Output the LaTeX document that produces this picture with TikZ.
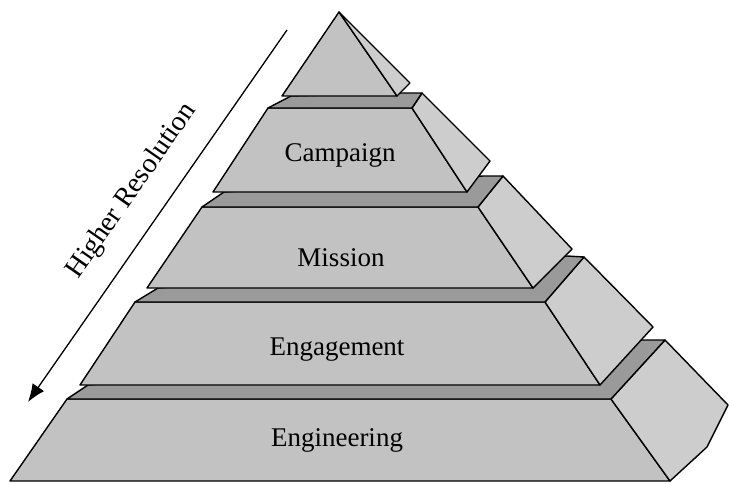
\documentclass[tikz,border=0pt]{standalone}
\usepackage{fontspec}
\setmainfont{Liberation Serif}
\usetikzlibrary{arrows.meta}
\definecolor{frontgray}{HTML}{C2C2C2}
\definecolor{sidegray}{HTML}{CDCDCD}
\definecolor{ledgegray}{HTML}{9A9A9A}
\tikzset{
  face/.style={draw=black, line width=1.4pt, line join=round, fill=frontgray},
  sideface/.style={draw=black, line width=1.4pt, line join=round, fill=sidegray},
  ledge/.style={draw=black, line width=1.4pt, line join=round, fill=ledgegray},
  tierlabel/.style={font=\fontsize{27}{30}\selectfont, inner sep=0pt},
  arrowlabel/.style={font=\fontsize{28}{31}\selectfont, inner sep=0pt, rotate=55.2}
}
\begin{document}
\begin{tikzpicture}[x=1pt,y=-1pt]
\useasboundingbox (0,0) rectangle (729,483);
% ---- coordinates ----
% top triangle
\coordinate (A) at (339,12);
\coordinate (T0bl) at (282,96);
\coordinate (T0br) at (397,96);
\coordinate (T0ob) at (410,83);
% campaign
\coordinate (T1tl) at (268,108); \coordinate (T1tr) at (412,108);
\coordinate (T1br) at (467,192); \coordinate (T1bl) at (213,192);
\coordinate (T1ot) at (422,93);  \coordinate (T1ob) at (490,161);
\coordinate (Q1) at (400,93);    \coordinate (LP1) at (291,96);
% mission
\coordinate (T2tl) at (202,207); \coordinate (T2tr) at (478,207);
\coordinate (T2br) at (533,288); \coordinate (T2bl) at (147,288);
\coordinate (T2ot) at (503,176); \coordinate (T2ob) at (572,249);
\coordinate (Q2) at (483,176);   \coordinate (LP2) at (224,192);
% engagement
\coordinate (T3tl) at (135,302); \coordinate (T3tr) at (545,302);
\coordinate (T3br) at (600,385); \coordinate (T3bl) at (80,385);
\coordinate (T3ot) at (584,257); \coordinate (T3ob) at (653,327);
\coordinate (Q3) at (567,256);   \coordinate (LP3) at (158,288);
% engineering
\coordinate (T4tl) at (67,399);  \coordinate (T4tr) at (611,399);
\coordinate (T4br) at (670,481); \coordinate (T4bl) at (10,481);
\coordinate (T4ot) at (665,340); \coordinate (T4oa) at (728,405);
\coordinate (T4ob) at (707,447);
\coordinate (Q4) at (642,340);   \coordinate (LP4) at (88,385);
% ---- drawing, bottom tier first ----
% Engineering
\draw[face] (T4tl) -- (T4tr) -- (T4br) -- (T4bl) -- cycle;
\draw[sideface] (T4tr) -- (T4ot) -- (T4oa) -- (T4ob) -- (T4br) -- cycle;
\draw[ledge] (T4tl) -- (T4tr) -- (T4ot) -- (Q4) -- (LP4) -- cycle;
% Engagement
\draw[face] (T3tl) -- (T3tr) -- (T3br) -- (T3bl) -- cycle;
\draw[sideface] (T3tr) -- (T3ot) -- (T3ob) -- (T3br) -- cycle;
\draw[ledge] (T3tl) -- (T3tr) -- (T3ot) -- (Q3) -- (LP3) -- cycle;
% Mission
\draw[face] (T2tl) -- (T2tr) -- (T2br) -- (T2bl) -- cycle;
\draw[sideface] (T2tr) -- (T2ot) -- (T2ob) -- (T2br) -- cycle;
\draw[ledge] (T2tl) -- (T2tr) -- (T2ot) -- (Q2) -- (LP2) -- cycle;
% Campaign
\draw[face] (T1tl) -- (T1tr) -- (T1br) -- (T1bl) -- cycle;
\draw[sideface] (T1tr) -- (T1ot) -- (T1ob) -- (T1br) -- cycle;
\draw[ledge] (T1tl) -- (T1tr) -- (T1ot) -- (Q1) -- (LP1) -- cycle;
% Top
\draw[face] (A) -- (T0br) -- (T0bl) -- cycle;
\draw[sideface] (A) -- (T0ob) -- (T0br) -- cycle;
% ---- labels ----
\node[tierlabel] (campaign) at (340,155) {Campaign};
\node[tierlabel] (mission) at (341,258) {Mission};
\node[tierlabel] (engagement) at (337,350) {Engagement};
\node[tierlabel] (engineering) at (337,440) {Engineering};
% ---- arrow ----
\coordinate (arrS) at (287,30);
\coordinate (arrE) at (28,402);
\draw[line width=1.3pt, -{Latex[length=18pt,width=14pt]}] (arrS) -- (arrE);
\node[arrowlabel] (higher) at (132,191) {Higher Resolution};
\end{tikzpicture}
\end{document}
